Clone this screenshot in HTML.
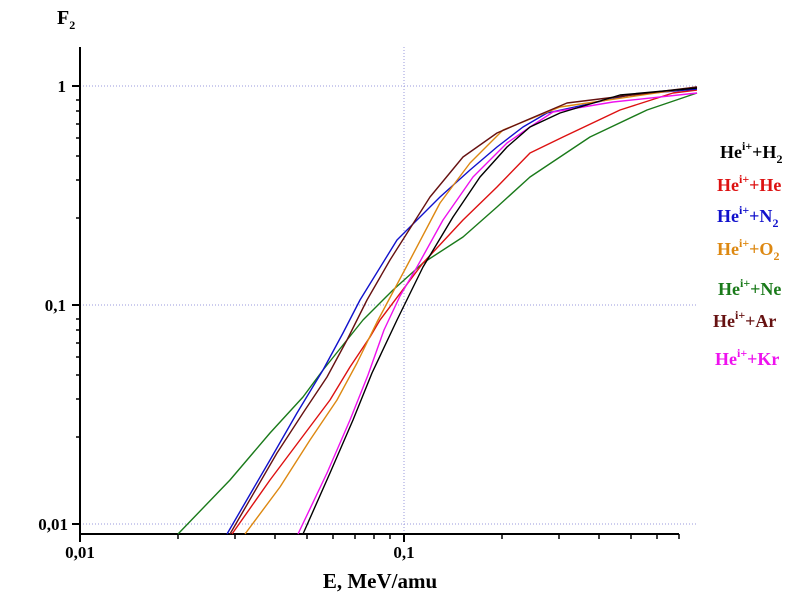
<!DOCTYPE html>
<html><head><meta charset="utf-8"><style>
html,body{margin:0;padding:0;background:#fff;}
svg{display:block;font-family:"Liberation Serif",serif;font-weight:bold;}
</style></head><body>
<svg width="800" height="601" viewBox="0 0 800 601">
<g stroke="#9999dd" stroke-width="1" stroke-dasharray="1,2" fill="none">
<line x1="80" y1="86" x2="697" y2="86"/>
<line x1="80" y1="305" x2="697" y2="305"/>
<line x1="80" y1="524" x2="697" y2="524"/>
<line x1="404" y1="47" x2="404" y2="534"/>
</g>
<g stroke="#000" stroke-width="2" fill="none">
<line x1="80" y1="47" x2="80" y2="535"/>
<line x1="79" y1="534" x2="679" y2="534"/>
<line x1="72" y1="86" x2="80" y2="86"/>
<line x1="72" y1="305" x2="80" y2="305"/>
<line x1="72" y1="524" x2="80" y2="524"/>
<line x1="80" y1="534" x2="80" y2="542"/>
<line x1="404" y1="534" x2="404" y2="542"/>
</g>
<g stroke="#000" stroke-width="1.5">
<path d="M76 100H80M76 111H80M76 124H80M76 138H80M76 156H80M76 180H80M76 218H80
M76 319H80M76 330H80M76 343H80M76 357H80M76 375H80M76 399H80M76 437H80" />
<path d="M178 534V539M235 534V539M275 534V539M307 534V539M333 534V539M355 534V539M374 534V539M390 534V539
M502 534V539M559 534V539M599 534V539M631 534V539M657 534V539M679 534V539"/>
</g>
<g font-size="17" fill="#000">
<text x="66" y="92" text-anchor="end">1</text>
<text x="66" y="311" text-anchor="end">0,1</text>
<text x="68" y="530" text-anchor="end">0,01</text>
<text x="80" y="558" text-anchor="middle">0,01</text>
<text x="404" y="558" text-anchor="middle">0,1</text>
</g>
<text x="380" y="588" font-size="21" text-anchor="middle">E, MeV/amu</text>
<text x="57" y="24" font-size="20">F<tspan font-size="12" dy="5">2</tspan></text>
<g fill="none" stroke-width="1.4" stroke-linejoin="round">
<polyline stroke="#1a7a1a" points="178,534 230,480 270,433 303,397 323,370 347,340 363,320 393,290 423,263 463,237 497,207 530,177 590,137 647,110 697,93"/>
<polyline stroke="#dd1111" points="232,534 270,480 300,440 330,400 350,367 370,337 380,320 423,263 463,220 497,187 530,153 563,137 620,110 673,93 697,90"/>
<polyline stroke="#1111cc" points="227,534 270,460 297,413 323,370 343,333 360,300 397,240 440,197 470,170 497,147 523,127 547,113 630,95 697,89"/>
<polyline stroke="#dd8811" points="245,534 280,487 310,440 337,400 357,363 377,322 410,260 440,203 470,163 503,130 560,107 697,87"/>
<polyline stroke="#661111" points="230,534 277,453 303,413 327,377 347,340 367,300 390,260 430,197 463,157 497,133 527,120 567,103 697,87"/>
<polyline stroke="#ee11ee" points="298,534 327,473 350,420 368,375 384,330 400,296 417,267 443,220 473,177 507,143 530,127 553,112 613,102 697,93"/>
<polyline stroke="#000" points="303,534 330,473 353,420 372,373 397,320 423,267 453,217 480,177 507,147 530,127 560,113 620,95 697,88"/>
</g>
<g font-size="18">
<text x="720" y="158" fill="#000">He<tspan font-size="12" dy="-8">i+</tspan><tspan dy="8">+H</tspan><tspan font-size="12" dy="5">2</tspan></text>
<text x="717" y="191" fill="#dd1111">He<tspan font-size="12" dy="-8">i+</tspan><tspan dy="8">+He</tspan></text>
<text x="717" y="222" fill="#1111cc">He<tspan font-size="12" dy="-8">i+</tspan><tspan dy="8">+N</tspan><tspan font-size="12" dy="5">2</tspan></text>
<text x="717" y="255" fill="#dd8811">He<tspan font-size="12" dy="-8">i+</tspan><tspan dy="8">+O</tspan><tspan font-size="12" dy="5">2</tspan></text>
<text x="718" y="295" fill="#1a7a1a">He<tspan font-size="12" dy="-8">i+</tspan><tspan dy="8">+Ne</tspan></text>
<text x="713" y="327" fill="#661111">He<tspan font-size="12" dy="-8">i+</tspan><tspan dy="8">+Ar</tspan></text>
<text x="715" y="365" fill="#ee11ee">He<tspan font-size="12" dy="-8">i+</tspan><tspan dy="8">+Kr</tspan></text>
</g>
</svg>
</body></html>
